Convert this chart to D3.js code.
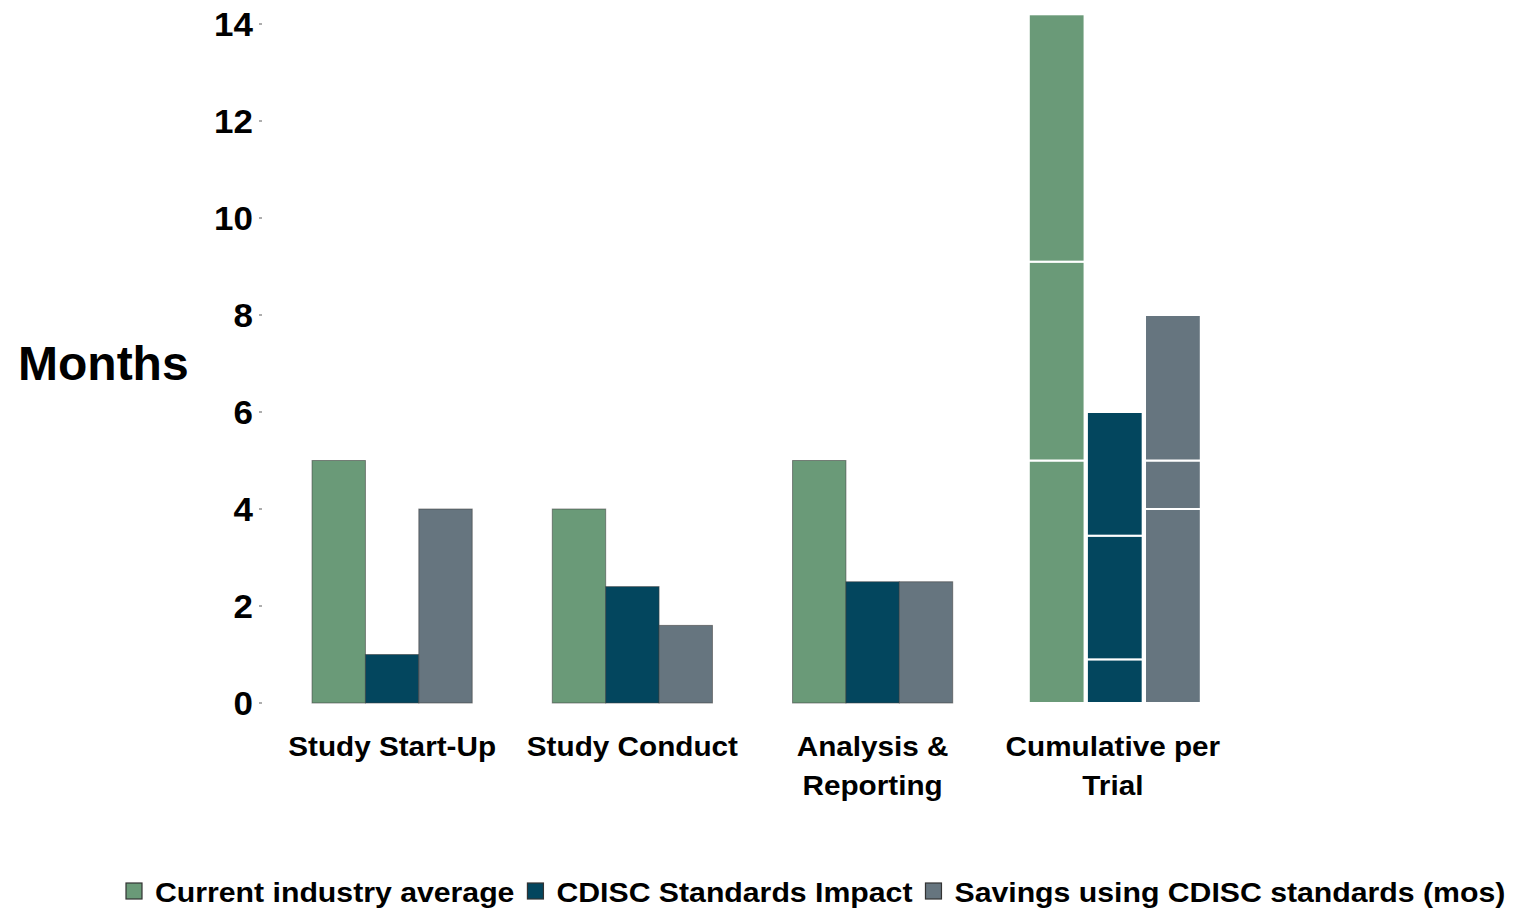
<!DOCTYPE html>
<html>
<head>
<meta charset="utf-8">
<script src="https://cdn.jsdelivr.net/npm/d3@7"></script>
<style>
  html, body { margin: 0; padding: 0; background: #fff; }
  svg { display: block; }
  text { font-family: 'Liberation Sans', Arial, Helvetica, sans-serif; font-weight: bold; fill: #000; }
</style>
</head>
<body>
<svg id="chart" width="1529" height="913"></svg>
<script>
// Categories (x-axis labels, may wrap on two lines)
const categories = ['Study Start-Up', 'Study Conduct', 'Analysis & Reporting', 'Cumulative per Trial'];
const categoryLines = [['Study Start-Up'], ['Study Conduct'], ['Analysis &', 'Reporting'], ['Cumulative per', 'Trial']];

const seriesNames = ['Current industry average', 'CDISC Standards Impact', 'Savings using CDISC standards (mos)'];
const seriesColors = ['#6a9a78', '#03465e', '#66757f'];

// Per-phase values (months)
const industryAvg = [5, 4, 5];
const cdiscImpact = [1, 2.4, 2.5];
const savings = [4, 1.6, 2.5];

// Cumulative column: stacked segments
const cumIndustry = [5, 4.1, 5.1];
const cumImpact = [0.9, 2.55, 2.55];
const cumSavings = [4, 1, 3];

const yTicks = [0, 2, 4, 6, 8, 10, 12, 14];

const svg = d3.select('#chart');
const stretch = 1.1; // source text is slightly wider than Liberation Sans

const x = d3.scaleBand().domain(categories).range([272, 1233]).paddingInner(1 / 3).paddingOuter(1 / 6);
const xs = d3.scaleBand().domain(seriesNames).range([0, x.bandwidth()]);
// cumulative column is a touch wider, with white gaps between its stacks
const xc = d3.scaleBand().domain(seriesNames)
  .range([x(categories[3]) - 4, x(categories[3]) + 168]).paddingInner(0.04);
const y = d3.scaleLinear().domain([0, 14]).range([703, 24]);

// Y axis: tiny tick dots, bold labels, no domain line
const yAxis = svg.append('g').attr('transform', 'translate(262,0)');
yAxis.selectAll('line')
  .data(yTicks)
  .enter()
  .append('line')
  .attr('x1', -3).attr('x2', 0)
  .attr('y1', (d) => y(d)).attr('y2', (d) => y(d))
  .attr('stroke', '#777').attr('stroke-width', 1.2);
yAxis.selectAll('text')
  .data(yTicks)
  .enter()
  .append('text')
  .attr('transform', (d) => `translate(-9,${y(d) + 12}) scale(1.06,1)`)
  .attr('text-anchor', 'end')
  .attr('font-size', 33)
  .text((d) => d);

svg.append('text')
  .attr('x', 18).attr('y', 380)
  .attr('font-size', 48)
  .text('Months');

// Phase bars (first three categories)
const phaseRows = categories.slice(0, 3).map((c, i) => ({
  cat: c,
  vals: [industryAvg[i], cdiscImpact[i], savings[i]],
}));
const bars = svg.append('g');
phaseRows.forEach((row) => {
  row.vals.forEach((v, j) => {
    bars.append('rect')
      .attr('x', x(row.cat) + xs(seriesNames[j]))
      .attr('y', y(v))
      .attr('width', xs.bandwidth())
      .attr('height', y(0) - y(v))
      .attr('fill', seriesColors[j])
      .attr('stroke', 'rgba(60,60,60,0.55)')
      .attr('stroke-width', 1);
  });
});

// Cumulative stacked column
const cumSeries = [cumIndustry, cumImpact, cumSavings];
cumSeries.forEach((segs, j) => {
  let base = 0;
  segs.forEach((s) => {
    bars.append('rect')
      .attr('x', xc(seriesNames[j]))
      .attr('y', y(base + s))
      .attr('width', xc.bandwidth())
      .attr('height', y(base) - y(base + s))
      .attr('fill', seriesColors[j])
      .attr('stroke', '#fff')
      .attr('stroke-width', 2);
    base += s;
  });
});

// X labels
const xLabels = svg.append('g');
categories.forEach((c, i) => {
  categoryLines[i].forEach((line, k) => {
    xLabels.append('text')
      .attr('transform', `translate(${x(c) + x.bandwidth() / 2},${756 + k * 39}) scale(${stretch},1)`)
      .attr('text-anchor', 'middle')
      .attr('font-size', 27)
      .text(line);
  });
});

// Legend
const legendStretch = 1.08;
const legend = svg.append('g');
let lx = 126;
seriesNames.forEach((name, j) => {
  legend.append('rect')
    .attr('x', lx).attr('y', 883)
    .attr('width', 16).attr('height', 16)
    .attr('fill', seriesColors[j])
    .attr('stroke', '#333').attr('stroke-width', 1.2);
  const t = legend.append('text')
    .attr('transform', `translate(${lx + 29},902) scale(${legendStretch},1)`)
    .attr('font-size', 28)
    .text(name);
  lx += 29 + t.node().getComputedTextLength() * legendStretch + 13;
});
</script>
</body>
</html>
